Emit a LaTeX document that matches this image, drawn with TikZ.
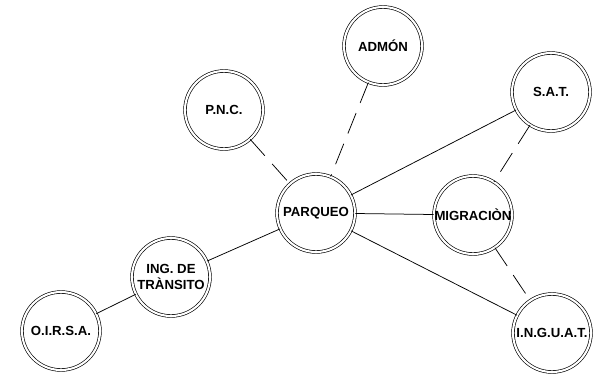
\documentclass[tikz,border=0pt]{standalone}
\usepackage{fontspec}
\setmainfont{Liberation Sans}
\begin{document}
\begin{tikzpicture}[x=1pt, y=-1pt,
    ent/.style={circle, draw, double, line width=0.65pt, double distance=2.1pt, minimum size=78pt, inner sep=0pt, align=center, font=\bfseries\fontsize{13.2}{15.5}\selectfont},
    link/.style={line width=0.75pt},
    dlink/.style={line width=0.75pt, dash pattern=on 22pt off 11pt}
]
\useasboundingbox (0,0) rectangle (598,373);

% Center node
\node[ent] (parqueo) at (316,213) {PARQUEO};

% Surrounding institutions
\node[ent] (admon) at (383,46) {ADMÓN};
\node[ent] (pnc) at (224,110) {P.N.C.};
\node[ent] (sat) at (551,92) {S.A.T.};
\node[ent] (migra) at (473,215) {MIGRACIÒN};
\node[ent] (ing) at (171,277) {ING. DE\\TRÀNSITO};
\node[ent] (oirsa) at (61,331) {O.I.R.S.A.};
\node[ent] (inguat) at (552,333) {I.N.G.U.A.T.};

% Solid links
\draw[link] (parqueo) -- (sat);
\draw[link] (parqueo) -- (migra);
\draw[link] (parqueo) -- (inguat);
\draw[link] (parqueo) -- (ing);
\draw[link] (ing) -- (oirsa);

% Dashed links
\draw[dlink] (pnc) -- (parqueo);
\draw[dlink] (admon) -- (parqueo);
\draw[dlink] (sat) -- (migra);
\draw[dlink] (migra) -- (inguat);

\end{tikzpicture}
\end{document}
